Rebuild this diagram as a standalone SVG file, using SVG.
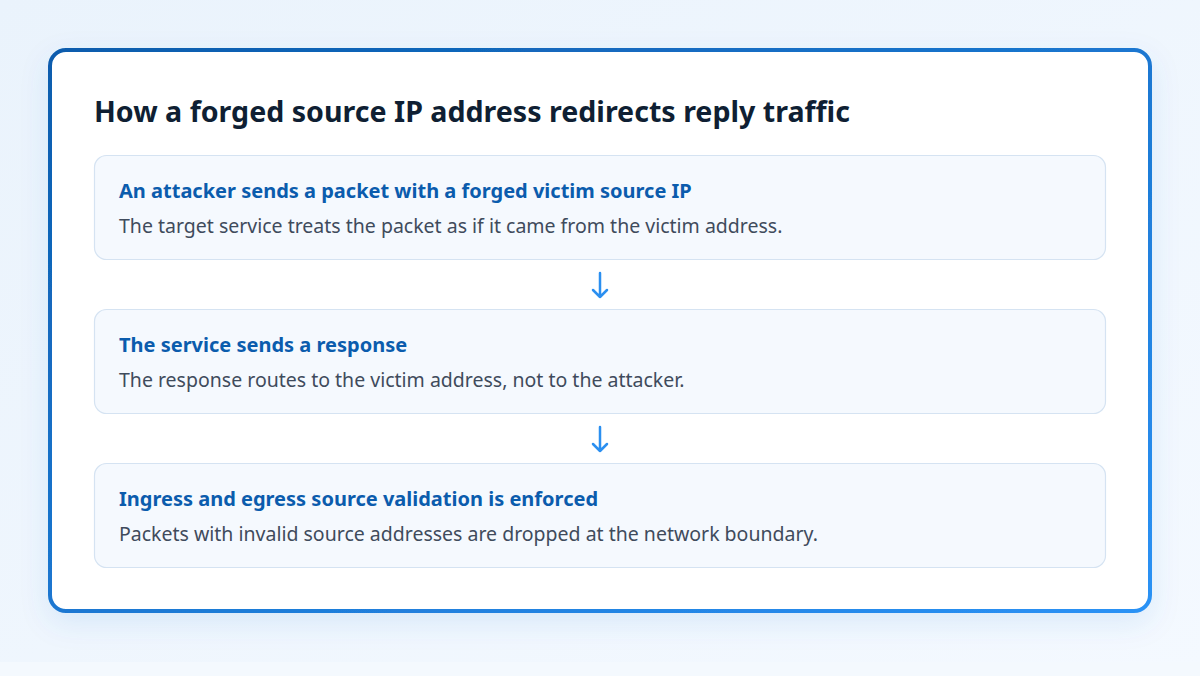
<svg xmlns="http://www.w3.org/2000/svg" width="1200" height="676" viewBox="0 0 1200 676">
  <defs>
    <linearGradient id="bg" x1="0" y1="0" x2="1" y2="1">
      <stop offset="0" stop-color="#eaf3fc"/>
      <stop offset="1" stop-color="#f4f9ff"/>
    </linearGradient>
    <linearGradient id="border" x1="0" y1="0" x2="1" y2="1">
      <stop offset="0" stop-color="#0b5cad"/>
      <stop offset="1" stop-color="#2b92f5"/>
    </linearGradient>
    <filter id="shadow" x="-10%" y="-10%" width="120%" height="130%">
      <feDropShadow dx="0" dy="10" stdDeviation="14" flood-color="#1e6fd0" flood-opacity="0.10"/>
    </filter>
  </defs>
  <style>
    .title { font-family: "Noto Sans", "Open Sans", sans-serif; font-weight: 700; font-size: 28.6px; fill: #0f1f33; }
    .head { font-family: "Noto Sans", "Open Sans", sans-serif; font-weight: 700; font-size: 20px; fill: #0b5cad; }
    .body { font-family: "Noto Sans", "Open Sans", sans-serif; font-size: 19.5px; fill: #3f4b5c; }
    .box { fill: #f5f9fe; stroke: #d5e3f2; stroke-width: 1.2; }
    .arrow { fill: none; stroke: #2b8ff0; stroke-width: 2.5; stroke-linecap: round; stroke-linejoin: round; }
  </style>
  <rect width="1200" height="676" fill="url(#bg)"/>
  <rect x="0" y="662" width="1200" height="14" fill="#f4f9fe"/>
  <g id="card">
    <rect x="50" y="50" width="1100" height="561" rx="16" fill="#ffffff" stroke="url(#border)" stroke-width="4" filter="url(#shadow)"/>
    <text class="title" x="94" y="122">How a forged source IP address redirects reply traffic</text>
  </g>
  <g id="step1">
    <rect class="box" x="94.5" y="155.5" width="1011" height="104" rx="12"/>
    <text class="head" x="119" y="198">An attacker sends a packet with a forged victim source IP</text>
    <text class="body" x="119" y="233">The target service treats the packet as if it came from the victim address.</text>
  </g>
  <g id="step2">
    <rect class="box" x="94.5" y="309.5" width="1011" height="104" rx="12"/>
    <text class="head" x="119" y="352">The service sends a response</text>
    <text class="body" x="119" y="387">The response routes to the victim address, not to the attacker.</text>
  </g>
  <g id="step3">
    <rect class="box" x="94.5" y="463.5" width="1011" height="104" rx="12"/>
    <text class="head" x="119" y="506">Ingress and egress source validation is enforced</text>
    <text class="body" x="119" y="541">Packets with invalid source addresses are dropped at the network boundary.</text>
  </g>
  <g id="connectors">
    <path class="arrow" d="M600 273 V297 M593 290 L600 297 L607 290"/>
    <path class="arrow" d="M600 427 V451 M593 444 L600 451 L607 444"/>
  </g>
</svg>
